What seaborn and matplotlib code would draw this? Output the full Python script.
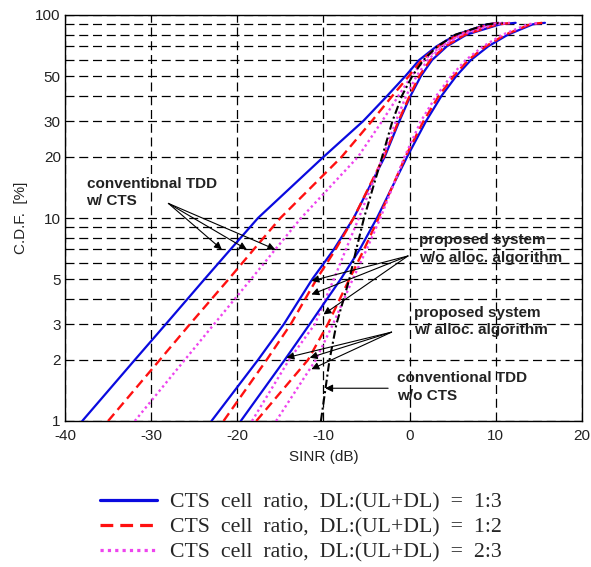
import matplotlib
matplotlib.use("Agg")
import matplotlib.pyplot as plt
import matplotlib.ticker as mticker
from matplotlib.lines import Line2D
import numpy as np
import pandas as pd
import seaborn as sns

# ---------------- data ----------------
cdf_levels = [1, 2, 3, 5, 7, 10, 20, 30, 40, 50, 60, 70, 80, 90, 91.5]

# conventional TDD w/ CTS
conv_cts_13 = [-38.0, -31.9, -28.3, -23.8, -20.8, -17.6, -10.0, -5.4, -2.6, -0.5, 1.1, 3.1, 5.4, 9.0, 10.3]
conv_cts_12 = [-35.0, -29.0, -25.5, -21.0, -18.1, -15.0, -7.9, -4.4, -2.0, -0.1, 1.4, 3.3, 5.6, 9.2, 10.6]
conv_cts_23 = [-31.9, -26.1, -22.7, -18.4, -15.6, -12.6, -6.0, -3.2, -1.3, 0.2, 1.7, 3.6, 5.9, 9.4, 10.9]
# proposed system w/o alloc. algorithm
wo_alloc_13 = [-23.0, -17.6, -14.6, -11.3, -8.8, -6.5, -2.9, -1.2, 0.1, 1.3, 2.6, 4.3, 6.6, 10.5, 12.3]
wo_alloc_12 = [-21.6, -16.6, -13.8, -10.8, -8.6, -6.5, -3.0, -1.3, 0.0, 1.1, 2.4, 4.1, 6.4, 10.2, 12.0]
wo_alloc_23 = [-18.3, -14.0, -11.0, -8.8, -7.4, -5.9, -3.1, -1.6, -0.4, 0.8, 2.1, 3.8, 6.0, 9.8, 11.6]
# proposed system w/ alloc. algorithm
w_alloc_13 = [-19.6, -14.5, -11.6, -8.0, -5.8, -3.8, -0.3, 1.9, 3.7, 5.4, 7.1, 9.1, 11.4, 14.3, 15.7]
w_alloc_12 = [-17.8, -11.8, -9.5, -7.0, -5.3, -3.6, -0.5, 1.6, 3.4, 5.1, 6.8, 8.8, 11.1, 14.0, 15.4]
w_alloc_23 = [-15.5, -10.9, -8.9, -6.6, -5.0, -3.4, -0.6, 1.3, 3.1, 4.8, 6.5, 8.5, 10.8, 13.7, 15.0]
# conventional TDD w/o CTS
conv_no_cts = [-10.3, -9.3, -8.5, -7.0, -6.2, -5.3, -3.2, -2.0, -0.9, 0.3, 1.6, 3.2, 5.3, 9.0, 10.8]

x_ticks = [-40, -30, -20, -10, 0, 10, 20]
y_ticks = [1, 2, 3, 5, 10, 20, 30, 50, 100]
y_minor = [4, 6, 7, 8, 9, 40, 60, 70, 80, 90]

legend_labels = ["CTS  cell  ratio,  DL:(UL+DL)  =  1:3",
                 "CTS  cell  ratio,  DL:(UL+DL)  =  1:2",
                 "CTS  cell  ratio,  DL:(UL+DL)  =  2:3"]

# ---------------- figure ----------------
sns.set_style("white")
plt.rcParams["font.family"] = ["Liberation Sans", "DejaVu Sans"]

W, H = 591, 567
fig = plt.figure(figsize=(W / 100, H / 100), dpi=100)
ax = fig.add_axes([65 / W, 1 - 421 / H, (582 - 65) / W, (421 - 15) / H])

BLUE, RED, MAG = "#0a0adf", "#ff1010", "#ee44ee"
styles = {
    "13": dict(color=BLUE, linestyle="-", linewidth=1.6),
    "12": dict(color=RED, linestyle=(0, (4.0, 2.2)), linewidth=1.7),
    "23": dict(color=MAG, linestyle=(0, (1.0, 1.3)), linewidth=1.7),
    "blk": dict(color="black", linestyle=(0, (4.0, 1.5, 1.0, 1.5)), linewidth=1.5),
}

curves = [
    (conv_cts_13, "13"), (conv_cts_12, "12"), (conv_cts_23, "23"),
    (wo_alloc_13, "13"), (wo_alloc_12, "12"), (wo_alloc_23, "23"),
    (w_alloc_13, "13"), (w_alloc_12, "12"), (w_alloc_23, "23"),
    (conv_no_cts, "blk"),
]
for vals, key in curves:
    df = pd.DataFrame({"SINR": vals, "CDF": cdf_levels})
    sns.lineplot(data=df, x="SINR", y="CDF", ax=ax, sort=False, estimator=None,
                 zorder=3, **styles[key])

ax.set_yscale("log")
ax.set_xlim(-40, 20)
ax.set_ylim(1, 100)
ax.set_xticks(x_ticks)
ax.set_xticklabels([str(t) for t in x_ticks])
ax.yaxis.set_major_locator(mticker.FixedLocator(y_ticks))
ax.yaxis.set_major_formatter(mticker.FixedFormatter([str(t) for t in y_ticks]))
ax.yaxis.set_minor_locator(mticker.FixedLocator(y_minor))
ax.yaxis.set_minor_formatter(mticker.NullFormatter())

grid_kw = dict(color="black", linestyle=(0, (7.2, 3.8)), linewidth=0.9)
ax.grid(True, which="major", axis="both", **grid_kw)
ax.grid(True, which="minor", axis="y", **grid_kw)
ax.set_axisbelow(True)
for s in ax.spines.values():
    s.set_color("black")
    s.set_linewidth(1.0)
ax.tick_params(axis="both", which="both", direction="in", length=3,
               labelsize=11, labelcolor="#222222", color="black")
ax.tick_params(axis="x", pad=6)
ax.tick_params(axis="y", pad=3)
ax.tick_params(axis="y", which="minor", length=2)

ax.set_xlabel("SINR (dB)", fontsize=11, color="#222222", labelpad=5)
ax.set_ylabel("C.D.F.  [%]", fontsize=11, color="#222222", labelpad=5)

# ---------------- annotations ----------------
txt_kw = dict(fontsize=11, fontweight="bold", color="#222222", ha="left", va="top",
              linespacing=1.32, zorder=5)
arrow_kw = dict(arrowstyle="-|>", color="black", lw=0.8, mutation_scale=11,
                shrinkA=0, shrinkB=0)

ax.text(-37.5, 16.0, "conventional TDD\nw/ CTS", **txt_kw)
for tip in [(-21.8, 7.0), (-18.9, 7.0), (-15.6, 7.0)]:
    ax.annotate("", xy=tip, xytext=(-28.0, 11.8), arrowprops=arrow_kw, zorder=5)

ax.text(1.1, 8.4, "proposed system\nw/o alloc. algorithm", **txt_kw)
for tip in [(-11.4, 4.9), (-11.4, 4.2), (-10.0, 3.35)]:
    ax.annotate("", xy=tip, xytext=(-0.2, 6.5), arrowprops=arrow_kw, zorder=5)

ax.text(0.5, 3.7, "proposed system\nw/ alloc. algorithm", **txt_kw)
for tip in [(-14.3, 2.05), (-11.6, 2.05), (-11.4, 1.8)]:
    ax.annotate("", xy=tip, xytext=(-2.1, 2.74), arrowprops=arrow_kw, zorder=5)

ax.text(-1.45, 1.76, "conventional TDD\nw/o CTS", **txt_kw)
ax.annotate("", xy=(-9.8, 1.45), xytext=(-2.5, 1.45), arrowprops=arrow_kw, zorder=5)

# ---------------- legend ----------------
handles = [Line2D([], [], **styles["13"]),
           Line2D([], [], **styles["12"]),
           Line2D([], [], **styles["23"])]
for h in handles:
    h.set_linewidth(2.3)
fig.legend(handles, legend_labels, loc="upper left",
           bbox_to_anchor=(100 / W, 1 - 492 / H), frameon=False,
           prop={"family": "Liberation Serif", "size": 15.7},
           handlelength=2.6, handletextpad=0.6, labelspacing=0.22,
           borderaxespad=0, borderpad=0)

fig.savefig("out.png", dpi=100)
